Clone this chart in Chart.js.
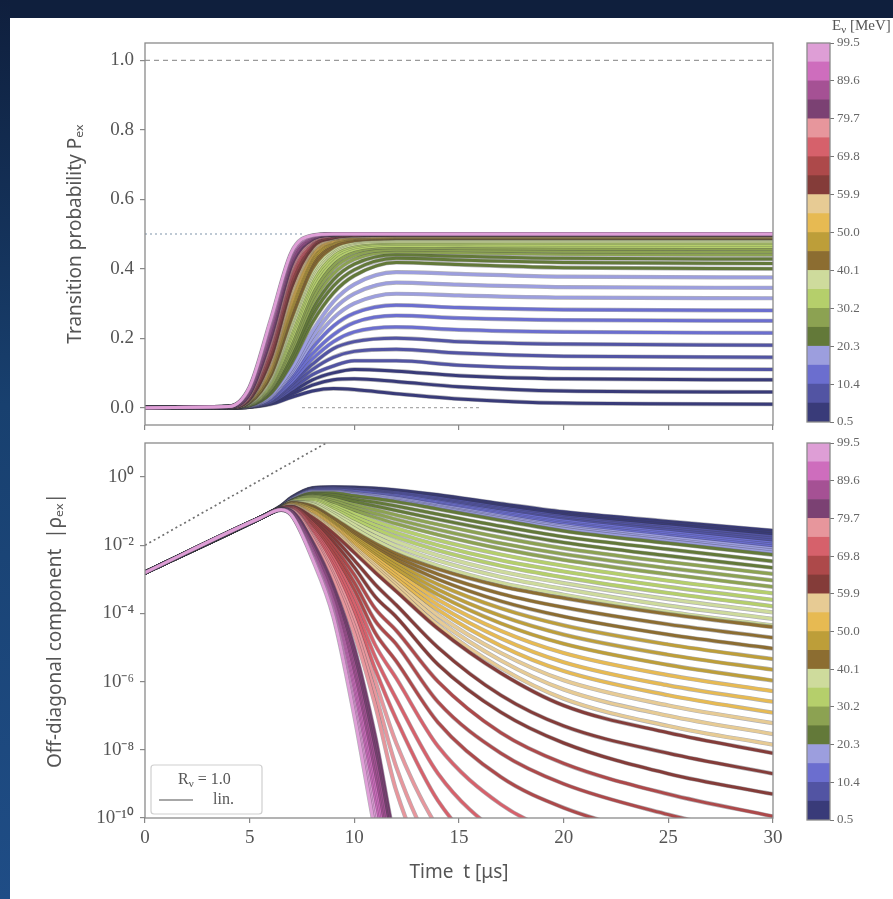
<!DOCTYPE html>
<html>
<head>
<meta charset="utf-8">
<script src="https://cdn.jsdelivr.net/npm/chart.js@4.4.1/dist/chart.umd.min.js"></script>
<style>
  html, body { margin: 0; padding: 0; background: #fff; }
  #page { position: relative; width: 893px; height: 899px; overflow: hidden; background: #fff; }
  #topband { position: absolute; left: 0; top: 0; width: 893px; height: 18px; background: #0f1f3d; }
  #leftband { position: absolute; left: 0; top: 0; width: 10px; height: 899px;
              background: linear-gradient(#0f1f3d, #18406f 45%, #1f4d86); }
  canvas { position: absolute; left: 0; top: 0; }
</style>
</head>
<body>
<div id="page">
  <div id="topband"></div>
  <div id="leftband"></div>
  <canvas id="pex" width="893" height="899"></canvas>
  <canvas id="rho" width="893" height="899"></canvas>
  <canvas id="cbTop" width="893" height="899"></canvas>
  <canvas id="cbBottom" width="893" height="899"></canvas>
</div>
<script>
// neutrino energies [MeV], one curve each
const energies = [0.5, 2.2, 3.9, 5.5, 7.2, 8.9, 10.6, 12.2, 13.9, 15.6, 17.3, 19.0,
  20.6, 22.3, 24.0, 25.7, 27.3, 29.0, 30.7, 32.4, 34.1, 35.7, 37.4, 39.1,
  40.8, 42.4, 44.1, 45.8, 47.5, 49.2, 50.8, 52.5, 54.2, 55.9, 57.6, 59.2,
  60.9, 62.6, 64.3, 65.9, 67.6, 69.3, 71.0, 72.7, 74.3, 76.0, 77.7, 79.4,
  81.1, 82.7, 84.4, 86.1, 87.8, 89.4, 91.1, 92.8, 94.5, 96.2, 97.8, 99.5];

// transition probability P_ex sampled at pTimes [us]
const pTimes = [0, 4, 5, 6, 7, 8, 9, 10, 12, 15, 20, 30];
const pBlue = [
  [0, 0, 0.002, 0.01, 0.03, 0.048, 0.055, 0.052, 0.04, 0.025, 0.013, 0.01],
  [0, 0, 0.002, 0.012, 0.038, 0.065, 0.08, 0.083, 0.075, 0.06, 0.048, 0.045],
  [0, 0, 0.002, 0.014, 0.045, 0.08, 0.1, 0.11, 0.105, 0.092, 0.083, 0.08],
  [0, 0, 0.003, 0.016, 0.052, 0.095, 0.12, 0.135, 0.135, 0.122, 0.113, 0.11],
  [0, 0, 0.003, 0.018, 0.06, 0.11, 0.145, 0.162, 0.168, 0.157, 0.148, 0.145],
  [0, 0, 0.003, 0.02, 0.068, 0.125, 0.17, 0.19, 0.2, 0.19, 0.183, 0.18],
  [0, 0, 0.003, 0.022, 0.075, 0.14, 0.19, 0.218, 0.232, 0.224, 0.218, 0.215],
  [0, 0, 0.004, 0.025, 0.083, 0.155, 0.21, 0.245, 0.265, 0.258, 0.252, 0.25],
  [0, 0, 0.004, 0.027, 0.09, 0.172, 0.235, 0.272, 0.295, 0.288, 0.282, 0.28],
  [0, 0, 0.004, 0.029, 0.097, 0.188, 0.258, 0.3, 0.328, 0.323, 0.317, 0.315],
  [0, 0, 0.005, 0.032, 0.104, 0.204, 0.282, 0.328, 0.36, 0.354, 0.347, 0.345],
  [0, 0, 0.005, 0.035, 0.112, 0.22, 0.305, 0.355, 0.39, 0.385, 0.377, 0.375]
];
const pGreen = [
  [0, 0.001, 0.006, 0.04, 0.128, 0.245, 0.33, 0.38, 0.418, 0.412, 0.403, 0.4],
  [0, 0.001, 0.007, 0.045, 0.14, 0.265, 0.35, 0.397, 0.43, 0.425, 0.418, 0.415],
  [0, 0.001, 0.007, 0.05, 0.152, 0.282, 0.368, 0.413, 0.44, 0.436, 0.43, 0.428],
  [0, 0.001, 0.008, 0.054, 0.164, 0.3, 0.385, 0.427, 0.449, 0.446, 0.442, 0.44],
  [0, 0.001, 0.009, 0.058, 0.176, 0.315, 0.4, 0.438, 0.456, 0.454, 0.45, 0.449],
  [0, 0.001, 0.009, 0.062, 0.188, 0.33, 0.412, 0.448, 0.462, 0.46, 0.458, 0.457],
  [0, 0.001, 0.01, 0.066, 0.199, 0.343, 0.423, 0.456, 0.467, 0.466, 0.465, 0.464],
  [0, 0.001, 0.011, 0.07, 0.21, 0.355, 0.432, 0.462, 0.472, 0.471, 0.47, 0.47],
  [0, 0.001, 0.012, 0.074, 0.22, 0.366, 0.44, 0.467, 0.476, 0.476, 0.475, 0.475],
  [0, 0.001, 0.012, 0.078, 0.23, 0.376, 0.447, 0.471, 0.479, 0.479, 0.479, 0.479],
  [0, 0.001, 0.013, 0.082, 0.24, 0.385, 0.452, 0.475, 0.482, 0.482, 0.482, 0.482],
  [0, 0.001, 0.014, 0.086, 0.248, 0.393, 0.457, 0.478, 0.485, 0.485, 0.485, 0.485]
];
const pOrange = [
  [0, 0.001, 0.015, 0.091, 0.257, 0.401, 0.462, 0.481, 0.487, 0.487, 0.487, 0.487],
  [0, 0.001, 0.016, 0.096, 0.266, 0.41, 0.466, 0.483, 0.488, 0.488, 0.488, 0.488],
  [0, 0.001, 0.017, 0.1, 0.274, 0.417, 0.47, 0.485, 0.489, 0.489, 0.489, 0.489],
  [0, 0.001, 0.017, 0.104, 0.282, 0.424, 0.473, 0.487, 0.49, 0.49, 0.49, 0.49],
  [0, 0.001, 0.018, 0.108, 0.29, 0.43, 0.476, 0.488, 0.491, 0.491, 0.491, 0.491],
  [0, 0.001, 0.019, 0.112, 0.298, 0.436, 0.478, 0.489, 0.492, 0.492, 0.492, 0.492],
  [0, 0.001, 0.02, 0.116, 0.306, 0.441, 0.48, 0.49, 0.493, 0.493, 0.493, 0.493],
  [0, 0.001, 0.02, 0.12, 0.313, 0.445, 0.482, 0.491, 0.494, 0.494, 0.494, 0.494],
  [0, 0.001, 0.021, 0.124, 0.32, 0.449, 0.484, 0.492, 0.495, 0.495, 0.495, 0.495],
  [0, 0.001, 0.022, 0.128, 0.327, 0.452, 0.486, 0.493, 0.495, 0.495, 0.495, 0.495],
  [0, 0.001, 0.023, 0.132, 0.333, 0.455, 0.487, 0.494, 0.496, 0.496, 0.496, 0.496],
  [0, 0.001, 0.024, 0.136, 0.34, 0.458, 0.488, 0.495, 0.497, 0.497, 0.497, 0.497]
];
const pRed = [
  [0, 0.001, 0.025, 0.14, 0.346, 0.461, 0.489, 0.496, 0.498, 0.498, 0.498, 0.498],
  [0, 0.001, 0.026, 0.145, 0.352, 0.464, 0.49, 0.496, 0.498, 0.498, 0.498, 0.498],
  [0, 0.001, 0.027, 0.15, 0.358, 0.467, 0.491, 0.497, 0.498, 0.498, 0.498, 0.498],
  [0, 0.001, 0.028, 0.155, 0.364, 0.469, 0.492, 0.497, 0.499, 0.499, 0.499, 0.499],
  [0, 0.002, 0.029, 0.16, 0.37, 0.471, 0.493, 0.498, 0.499, 0.499, 0.499, 0.499],
  [0, 0.002, 0.03, 0.165, 0.376, 0.473, 0.494, 0.498, 0.499, 0.499, 0.499, 0.499],
  [0, 0.002, 0.031, 0.17, 0.381, 0.475, 0.495, 0.498, 0.499, 0.499, 0.499, 0.499],
  [0, 0.002, 0.032, 0.175, 0.386, 0.477, 0.495, 0.499, 0.5, 0.5, 0.5, 0.5],
  [0, 0.002, 0.034, 0.18, 0.391, 0.479, 0.496, 0.499, 0.5, 0.5, 0.5, 0.5],
  [0, 0.002, 0.035, 0.184, 0.396, 0.48, 0.496, 0.499, 0.5, 0.5, 0.5, 0.5],
  [0, 0.002, 0.036, 0.188, 0.4, 0.482, 0.497, 0.5, 0.5, 0.5, 0.5, 0.5],
  [0, 0.002, 0.038, 0.192, 0.404, 0.483, 0.497, 0.5, 0.5, 0.5, 0.5, 0.5]
];
const pPink = [
  [0, 0.002, 0.04, 0.197, 0.409, 0.485, 0.498, 0.5, 0.5, 0.5, 0.5, 0.5],
  [0, 0.002, 0.041, 0.202, 0.413, 0.486, 0.498, 0.5, 0.5, 0.5, 0.5, 0.5],
  [0, 0.002, 0.043, 0.207, 0.417, 0.487, 0.498, 0.5, 0.5, 0.5, 0.5, 0.5],
  [0, 0.002, 0.044, 0.212, 0.421, 0.488, 0.499, 0.5, 0.5, 0.5, 0.5, 0.5],
  [0, 0.002, 0.046, 0.217, 0.425, 0.489, 0.499, 0.5, 0.5, 0.5, 0.5, 0.5],
  [0, 0.002, 0.048, 0.222, 0.429, 0.49, 0.499, 0.5, 0.5, 0.5, 0.5, 0.5],
  [0, 0.003, 0.05, 0.227, 0.433, 0.491, 0.499, 0.5, 0.5, 0.5, 0.5, 0.5],
  [0, 0.003, 0.052, 0.232, 0.436, 0.492, 0.499, 0.5, 0.5, 0.5, 0.5, 0.5],
  [0, 0.003, 0.054, 0.237, 0.439, 0.493, 0.5, 0.5, 0.5, 0.5, 0.5, 0.5],
  [0, 0.003, 0.056, 0.242, 0.442, 0.494, 0.5, 0.5, 0.5, 0.5, 0.5, 0.5],
  [0, 0.003, 0.058, 0.247, 0.445, 0.495, 0.5, 0.5, 0.5, 0.5, 0.5, 0.5],
  [0, 0.003, 0.06, 0.252, 0.448, 0.496, 0.5, 0.5, 0.5, 0.5, 0.5, 0.5]
];

// |rho_ex|: shared early growth, then log10 values per curve at rhoTimes [us]
const riseTimes = [0, 5.5];
const riseLog = [-2.8, -1.2];
const rhoTimes = [6.5, 7, 8, 9, 10, 11, 12, 14, 17, 20, 25, 30];
const rhoBlue = [
  [-0.85, -0.6, -0.32, -0.29, -0.3, -0.33, -0.38, -0.52, -0.78, -1.02, -1.3, -1.57],
  [-0.85, -0.61, -0.33, -0.3, -0.32, -0.35, -0.41, -0.55, -0.82, -1.07, -1.35, -1.63],
  [-0.86, -0.61, -0.34, -0.32, -0.34, -0.38, -0.44, -0.59, -0.86, -1.11, -1.41, -1.69],
  [-0.86, -0.62, -0.36, -0.33, -0.36, -0.4, -0.46, -0.62, -0.9, -1.16, -1.46, -1.75],
  [-0.86, -0.63, -0.37, -0.35, -0.38, -0.43, -0.49, -0.66, -0.94, -1.2, -1.51, -1.81],
  [-0.86, -0.64, -0.38, -0.36, -0.4, -0.45, -0.52, -0.69, -0.98, -1.25, -1.56, -1.87],
  [-0.87, -0.64, -0.39, -0.38, -0.42, -0.48, -0.55, -0.73, -1.02, -1.29, -1.62, -1.93],
  [-0.87, -0.65, -0.4, -0.39, -0.44, -0.5, -0.58, -0.76, -1.06, -1.34, -1.67, -1.99],
  [-0.87, -0.66, -0.41, -0.41, -0.46, -0.53, -0.61, -0.8, -1.1, -1.38, -1.72, -2.04],
  [-0.87, -0.66, -0.42, -0.42, -0.48, -0.55, -0.63, -0.83, -1.14, -1.43, -1.77, -2.1],
  [-0.88, -0.67, -0.44, -0.44, -0.5, -0.58, -0.66, -0.87, -1.18, -1.47, -1.83, -2.16],
  [-0.88, -0.68, -0.45, -0.45, -0.52, -0.6, -0.69, -0.9, -1.22, -1.52, -1.88, -2.22]
];
const rhoGreen = [
  [-0.88, -0.69, -0.47, -0.47, -0.55, -0.63, -0.72, -0.94, -1.27, -1.58, -1.94, -2.28],
  [-0.88, -0.7, -0.5, -0.53, -0.64, -0.74, -0.85, -1.09, -1.44, -1.75, -2.12, -2.47],
  [-0.88, -0.7, -0.53, -0.59, -0.72, -0.85, -0.98, -1.24, -1.6, -1.92, -2.31, -2.66],
  [-0.89, -0.71, -0.56, -0.65, -0.81, -0.96, -1.11, -1.39, -1.77, -2.09, -2.49, -2.84],
  [-0.89, -0.71, -0.59, -0.71, -0.9, -1.07, -1.24, -1.54, -1.94, -2.26, -2.67, -3.03],
  [-0.89, -0.72, -0.62, -0.77, -0.98, -1.18, -1.37, -1.69, -2.1, -2.43, -2.85, -3.22],
  [-0.89, -0.72, -0.65, -0.83, -1.07, -1.3, -1.5, -1.85, -2.27, -2.6, -3.04, -3.41],
  [-0.9, -0.72, -0.68, -0.88, -1.16, -1.41, -1.63, -2.0, -2.44, -2.77, -3.22, -3.6],
  [-0.9, -0.73, -0.71, -0.94, -1.24, -1.52, -1.76, -2.15, -2.6, -2.94, -3.4, -3.79],
  [-0.9, -0.73, -0.74, -1.0, -1.33, -1.63, -1.89, -2.3, -2.77, -3.11, -3.58, -3.97],
  [-0.9, -0.74, -0.77, -1.06, -1.41, -1.74, -2.02, -2.45, -2.93, -3.28, -3.77, -4.16],
  [-0.9, -0.74, -0.8, -1.12, -1.5, -1.85, -2.15, -2.6, -3.1, -3.45, -3.95, -4.35]
];
const rhoOrange = [
  [-0.9, -0.75, -0.85, -1.2, -1.6, -1.95, -2.25, -2.7, -3.2, -3.55, -4.02, -4.4],
  [-0.9, -0.76, -0.88, -1.24, -1.65, -2.02, -2.34, -2.85, -3.42, -3.82, -4.32, -4.71],
  [-0.9, -0.77, -0.9, -1.27, -1.7, -2.09, -2.43, -3.0, -3.64, -4.09, -4.62, -5.03],
  [-0.9, -0.78, -0.93, -1.31, -1.75, -2.15, -2.52, -3.15, -3.85, -4.35, -4.91, -5.34],
  [-0.9, -0.79, -0.96, -1.35, -1.8, -2.22, -2.61, -3.3, -4.07, -4.62, -5.21, -5.65],
  [-0.9, -0.8, -0.99, -1.38, -1.85, -2.29, -2.7, -3.45, -4.29, -4.89, -5.51, -5.97],
  [-0.91, -0.8, -1.01, -1.42, -1.9, -2.36, -2.8, -3.6, -4.51, -5.16, -5.81, -6.28],
  [-0.91, -0.81, -1.04, -1.45, -1.95, -2.43, -2.89, -3.75, -4.73, -5.43, -6.11, -6.59],
  [-0.91, -0.82, -1.07, -1.49, -2.0, -2.5, -2.98, -3.9, -4.95, -5.69, -6.4, -6.91],
  [-0.91, -0.83, -1.1, -1.53, -2.05, -2.56, -3.07, -4.05, -5.16, -5.96, -6.7, -7.22],
  [-0.91, -0.84, -1.12, -1.56, -2.1, -2.63, -3.16, -4.2, -5.38, -6.23, -7.0, -7.54],
  [-0.91, -0.85, -1.15, -1.6, -2.15, -2.7, -3.25, -4.35, -5.6, -6.5, -7.3, -7.85]
];
const rhoRed = [
  [-0.92, -0.86, -1.18, -1.65, -2.22, -2.8, -3.35, -4.45, -5.75, -6.7, -7.5, -8.1],
  [-0.92, -0.87, -1.24, -1.77, -2.44, -3.15, -3.75, -5.0, -6.4, -7.3, -8.1, -8.7],
  [-0.92, -0.88, -1.29, -1.9, -2.65, -3.51, -4.1, -5.5, -6.9, -7.8, -8.7, -9.3],
  [-0.92, -0.89, -1.35, -2.02, -2.87, -3.86, -4.5, -6.0, -7.5, -8.4, -9.3, -9.95],
  [-0.92, -0.9, -1.41, -2.14, -3.09, -4.22, -4.9, -6.6, -8.1, -9.0, -9.9, -10.6],
  [-0.93, -0.92, -1.46, -2.26, -3.3, -4.57, -5.4, -7.2, -8.8, -9.7, -10.6, -11.3],
  [-0.93, -0.93, -1.52, -2.39, -3.52, -4.93, -5.9, -7.9, -9.6, -10.5, -11.4, -12],
  [-0.93, -0.94, -1.57, -2.51, -3.74, -5.28, -6.5, -8.7, -10.5, -11.5, -12.4, -13],
  [-0.93, -0.95, -1.63, -2.63, -3.95, -5.64, -7.1, -9.5, -11.4, -12.5, -13.4, -14],
  [-0.93, -0.96, -1.69, -2.75, -4.17, -5.99, -7.8, -10.3, -12.3, -13.5, -14, -14],
  [-0.94, -0.97, -1.74, -2.88, -4.38, -6.35, -8.5, -11.2, -13.2, -14, -14, -14],
  [-0.94, -0.98, -1.8, -3.0, -4.6, -6.7, -9.2, -12, -14, -14, -14, -14]
];
const rhoPink = [
  [-0.94, -1.0, -1.9, -3.2, -5.0, -7.6, -10.8, -14, -14, -14, -14, -14],
  [-0.94, -1.01, -1.95, -3.28, -5.18, -7.85, -11.0, -14, -14, -14, -14, -14],
  [-0.94, -1.02, -1.99, -3.36, -5.36, -8.11, -11.3, -14, -14, -14, -14, -14],
  [-0.94, -1.03, -2.04, -3.45, -5.55, -8.36, -11.5, -14, -14, -14, -14, -14],
  [-0.95, -1.04, -2.08, -3.53, -5.73, -8.62, -11.8, -14, -14, -14, -14, -14],
  [-0.95, -1.05, -2.13, -3.61, -5.91, -8.87, -12.0, -14, -14, -14, -14, -14],
  [-0.95, -1.07, -2.17, -3.69, -6.09, -9.13, -12.3, -14, -14, -14, -14, -14],
  [-0.95, -1.08, -2.22, -3.77, -6.27, -9.38, -12.5, -14, -14, -14, -14, -14],
  [-0.95, -1.09, -2.26, -3.85, -6.45, -9.64, -12.8, -14, -14, -14, -14, -14],
  [-0.96, -1.1, -2.31, -3.94, -6.64, -9.89, -13.0, -14, -14, -14, -14, -14],
  [-0.96, -1.11, -2.35, -4.02, -6.82, -10.15, -13.2, -14, -14, -14, -14, -14],
  [-0.96, -1.12, -2.4, -4.1, -7.0, -10.4, -13.4, -14, -14, -14, -14, -14]
];

// guide lines
const linTimes = [0, 9];
const linLog = [-2, 1.12];
const unityTimes = [0, 30];
const halfTimes = [0, 7.5];
const zeroTimes = [7.5, 16];

// ticks
const timeTicks = [0, 5, 10, 15, 20, 25, 30];
const pTicks = [0, 0.2, 0.4, 0.6, 0.8, 1.0];
const rhoTickExp = [0, -2, -4, -6, -8, -10];
const cbTicks = [0.5, 10.4, 20.3, 30.2, 40.1, 50.0, 59.9, 69.8, 79.7, 89.6, 99.5];

const cmap = ['#393b79', '#5254a3', '#6b6ecf', '#9c9ede', '#637939', '#8ca252', '#b5cf6b', '#cedb9c',
  '#8c6d31', '#bd9e39', '#e7ba52', '#e7cb94', '#843c39', '#ad494a', '#d6616b', '#e7969c',
  '#7b4173', '#a55194', '#ce6dbd', '#de9ed6'];
const eMin = 0.5, eMax = 99.5;
const bandColor = e => cmap[Math.min(19, Math.floor((e - eMin) / (eMax - eMin) * 20))];

Chart.defaults.animation = false;
Chart.defaults.devicePixelRatio = 1;
Chart.defaults.color = '#555';

const tickFont = { family: 'Liberation Serif', size: 19 };
const labelFont = { family: 'Noto Sans', size: 19 };
const axisGrid = { drawOnChartArea: false, drawTicks: true, tickLength: 5, color: '#888', lineWidth: 1.2 };
const SUP = { '-': '\u207b', '0': '\u2070', '1': '\u00b9', '2': '\u00b2', '3': '\u00b3', '4': '\u2074',
  '5': '\u2075', '6': '\u2076', '7': '\u2077', '8': '\u2078', '9': '\u2079' };
const pow10Label = v => '10' + String(Math.round(Math.log10(v))).split('').map(c => SUP[c]).join('');

// each curve: thin dark under-stroke, coloured line on top; later curves drawn above earlier ones
function curveSets(rows, toPoints, lw) {
  const sets = [];
  for (let k = rows.length - 1; k >= 0; k--) {
    const pts = toPoints(rows[k]);
    sets.push({ data: pts, borderColor: bandColor(energies[k]), borderWidth: lw });
    sets.push({ data: pts, borderColor: 'rgba(60,60,70,0.4)', borderWidth: lw + 1.2 });
  }
  return sets;
}

const frame = {
  id: 'frame',
  afterDraw(chart) {
    const { ctx, chartArea: a } = chart;
    ctx.save();
    ctx.strokeStyle = '#8a8a8a';
    ctx.lineWidth = 1.3;
    ctx.strokeRect(a.left, a.top, a.right - a.left, a.bottom - a.top);
    ctx.restore();
  }
};

function subText(ctx, parts, x, y, size) {
  // parts: [text, isSubscript]
  let cx = x;
  parts.forEach(([t, sub]) => {
    ctx.font = (sub ? Math.round(size * 0.7) : size) + 'px "Liberation Serif"';
    ctx.fillText(t, cx, sub ? y + size * 0.25 : y);
    cx += ctx.measureText(t).width;
  });
  return cx - x;
}

const elementDefaults = {
  point: { radius: 0, hoverRadius: 0 },
  line: { cubicInterpolationMode: 'monotone', capBezierPoints: false, fill: false }
};

// ---- top panel: transition probability ----
const pRows = [...pBlue, ...pGreen, ...pOrange, ...pRed, ...pPink];
const pSets = curveSets(pRows, row => pTimes.map((t, i) => ({ x: t, y: row[i] })), 3);
const pGuides = [
  { data: unityTimes.map(t => ({ x: t, y: 1.0 })), borderColor: '#9a9a9a', borderWidth: 1.4, borderDash: [5, 4] },
  { data: halfTimes.map(t => ({ x: t, y: 0.5 })), borderColor: '#a9b8c6', borderWidth: 1.6, borderDash: [2, 3] },
  { data: zeroTimes.map(t => ({ x: t, y: 0.0 })), borderColor: '#aaaaaa', borderWidth: 1.4, borderDash: [3, 3] }
];

new Chart(document.getElementById('pex'), {
  type: 'line',
  data: { datasets: [...pGuides, ...pSets] },
  options: {
    responsive: false,
    elements: elementDefaults,
    layout: { padding: { left: 60, right: 120, top: 43, bottom: 466 } },
    plugins: { legend: { display: false }, tooltip: { enabled: false } },
    scales: {
      x: {
        type: 'linear', min: 0, max: 30,
        afterBuildTicks: s => { s.ticks = timeTicks.map(v => ({ value: v })); },
        afterFit: s => { s.height = 8; },
        ticks: { display: false },
        grid: axisGrid, border: { display: false }
      },
      y: {
        type: 'linear', min: -0.05, max: 1.05,
        afterBuildTicks: s => { s.ticks = pTicks.map(v => ({ value: v })); },
        afterFit: s => { s.width = 85; },
        ticks: { font: tickFont, color: '#555', padding: 6, callback: v => v.toFixed(1) },
        grid: axisGrid, border: { display: false },
        title: { display: true, text: 'Transition probability P\u2091\u2093', font: labelFont, color: '#555' }
      }
    }
  },
  plugins: [frame]
});

// ---- bottom panel: off-diagonal component ----
const rhoRows = [...rhoBlue, ...rhoGreen, ...rhoOrange, ...rhoRed, ...rhoPink];
const rhoSets = curveSets(rhoRows, row => [
  ...riseTimes.map((t, i) => ({ x: t, y: Math.pow(10, riseLog[i]) })),
  ...rhoTimes.map((t, i) => ({ x: t, y: Math.pow(10, row[i]) }))
], 3);
const linSet = {
  data: linTimes.map((t, i) => ({ x: t, y: Math.pow(10, linLog[i]) })),
  borderColor: '#707070', borderWidth: 1.7, borderDash: [2, 3]
};

const rhoLegend = {
  id: 'rhoLegend',
  afterDraw(chart) {
    const { ctx, chartArea: a } = chart;
    const x = a.left + 6, y = a.bottom - 53, w = 111, h = 49;
    ctx.save();
    ctx.fillStyle = 'rgba(255,255,255,0.9)';
    ctx.strokeStyle = '#cfcfcf';
    ctx.lineWidth = 1.2;
    ctx.beginPath();
    ctx.roundRect(x, y, w, h, 3);
    ctx.fill();
    ctx.stroke();
    ctx.fillStyle = '#555';
    ctx.textBaseline = 'middle';
    ctx.textAlign = 'left';
    subText(ctx, [['R', false], ['\u03bd', true], [' = 1.0', false]], x + 27, y + 15, 16);
    ctx.strokeStyle = '#8a8a8a';
    ctx.lineWidth = 1.6;
    ctx.beginPath();
    ctx.moveTo(x + 8, y + 35);
    ctx.lineTo(x + 42, y + 35);
    ctx.stroke();
    ctx.font = '16px "Liberation Serif"';
    ctx.fillText('lin.', x + 62, y + 35);
    ctx.restore();
  }
};

new Chart(document.getElementById('rho'), {
  type: 'line',
  data: { datasets: [linSet, ...rhoSets] },
  options: {
    responsive: false,
    elements: elementDefaults,
    layout: { padding: { left: 40, right: 120, top: 443, bottom: 11 } },
    plugins: { legend: { display: false }, tooltip: { enabled: false } },
    scales: {
      x: {
        type: 'linear', min: 0, max: 30,
        afterBuildTicks: s => { s.ticks = timeTicks.map(v => ({ value: v })); },
        afterFit: s => { s.height = 70; },
        ticks: { font: tickFont, color: '#555', padding: 4, maxRotation: 0 },
        grid: axisGrid, border: { display: false },
        title: { display: true, text: 'Time  t [\u03bcs]', font: labelFont, color: '#555' }
      },
      y: {
        type: 'logarithmic', min: 1e-10, max: 10,
        afterBuildTicks: s => { s.ticks = rhoTickExp.map(e => ({ value: Math.pow(10, e) })); },
        afterFit: s => { s.width = 105; },
        ticks: { font: tickFont, color: '#555', padding: 6, callback: v => pow10Label(v) },
        grid: axisGrid, border: { display: false },
        title: { display: true, text: 'Off-diagonal component  |\u03c1\u2091\u2093|', font: labelFont, color: '#555' }
      }
    }
  },
  plugins: [frame, rhoLegend]
});

// ---- colour bars ----
function colorbar(id, top, bottom, withTitle) {
  const step = (eMax - eMin) / cmap.length;
  const sets = cmap.map((c, i) => ({
    data: [[eMin + i * step, eMin + (i + 1) * step]],
    backgroundColor: c, borderWidth: 0, grouped: false,
    barPercentage: 1, categoryPercentage: 1
  }));
  const title = {
    id: 'cbTitle',
    afterDraw(chart) {
      if (!withTitle) return;
      const ctx = chart.ctx;
      ctx.save();
      ctx.fillStyle = '#555';
      ctx.textBaseline = 'middle';
      subText(ctx, [['E', false], ['\u03bd', true], [' [MeV]', false]], 832, 26, 15);
      ctx.restore();
    }
  };
  new Chart(document.getElementById(id), {
    type: 'bar',
    data: { labels: [''], datasets: sets },
    options: {
      responsive: false,
      layout: { padding: { left: 807, right: 13, top: top, bottom: 899 - bottom } },
      plugins: { legend: { display: false }, tooltip: { enabled: false } },
      scales: {
        x: { display: false },
        y: {
          position: 'right', min: eMin, max: eMax,
          afterBuildTicks: s => { s.ticks = cbTicks.map(v => ({ value: v })); },
          afterFit: s => { s.width = 50; },
          ticks: { font: { family: 'Liberation Serif', size: 13 }, color: '#666', padding: 3,
                   callback: v => v.toFixed(1) },
          grid: { drawOnChartArea: false, drawTicks: true, tickLength: 4, color: '#777' },
          border: { display: false }
        }
      }
    },
    plugins: [frame, title]
  });
}
colorbar('cbTop', 43, 422, true);
colorbar('cbBottom', 443, 820, false);
</script>
</body>
</html>
